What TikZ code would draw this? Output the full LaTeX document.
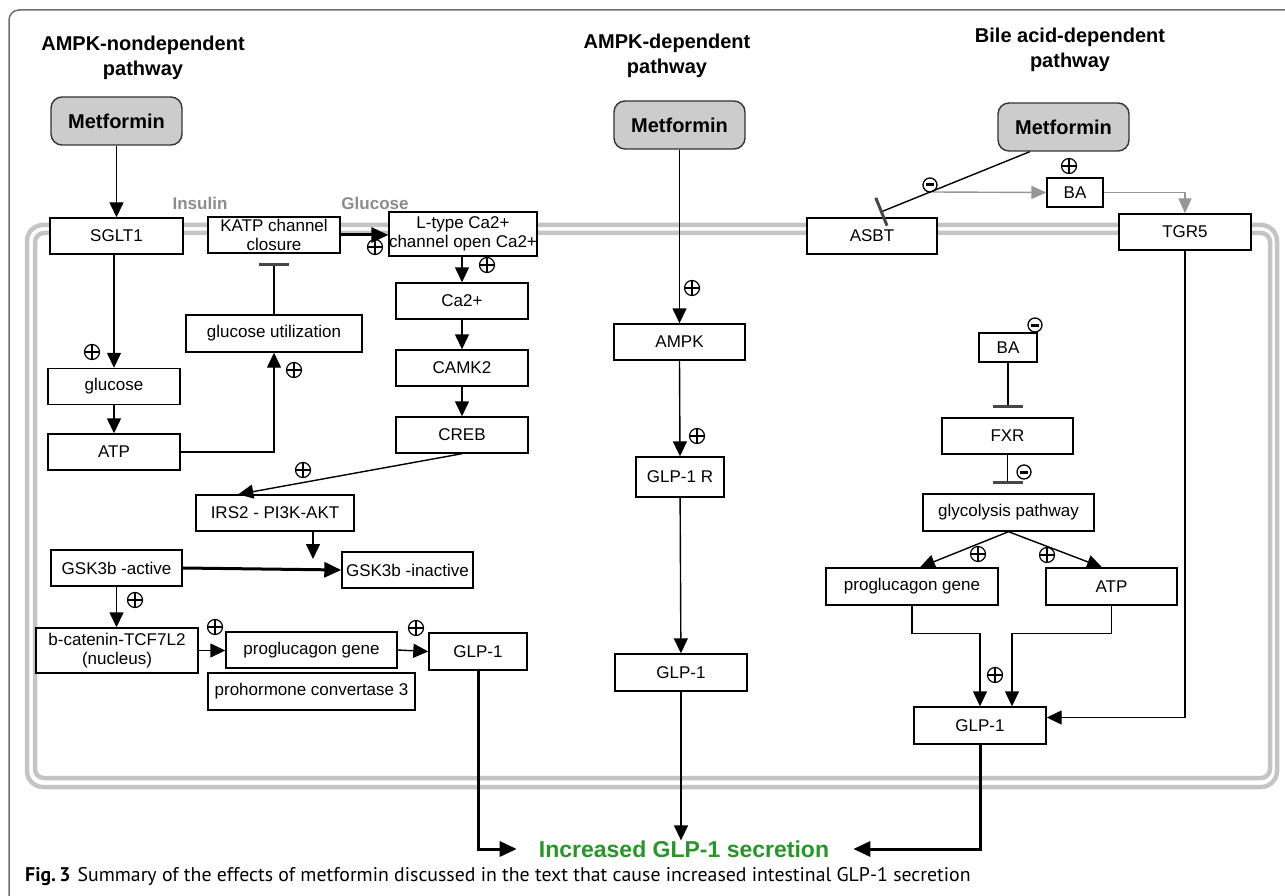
\documentclass[tikz,border=0pt]{standalone}
\usepackage{fontspec}
\setmainfont{Liberation Sans}
\newfontfamily\capfont{PT Sans}
\usetikzlibrary{arrows.meta,calc}

\definecolor{memgray}{RGB}{196,196,196}
\definecolor{metfill}{RGB}{204,204,204}
\definecolor{flowgray}{RGB}{150,150,150}
\definecolor{labelgray}{RGB}{140,140,140}
\definecolor{secretgreen}{RGB}{38,150,38}
\definecolor{framegray}{RGB}{110,110,110}
\definecolor{bargray}{RGB}{70,70,70}

\begin{document}
\begin{tikzpicture}[x=1pt,y=-1pt,
  box/.style={draw, fill=white, line width=1.4, inner sep=0, minimum height=36,
    font=\fontsize{17}{19}\selectfont, align=center},
  drug/.style={draw=black!80, fill=metfill, rounded corners=11, line width=1.4,
    minimum width=131, minimum height=48, inner sep=0,
    font=\fontsize{20}{22}\selectfont\bfseries},
  head/.style={font=\fontsize{20}{25}\selectfont\bfseries, align=center, inner sep=0},
  side/.style={font=\fontsize{17}{19}\selectfont\bfseries, text=labelgray, inner sep=0},
  arr/.style={line width=1.4, -{Triangle[length=15pt,width=14pt]}},
  bold arr/.style={line width=3, -{Triangle[length=17pt,width=15pt]}},
  grayarr/.style={draw=flowgray, line width=1.4, -{Triangle[length=15pt,width=13pt,color=flowgray]}},
  inh/.style={line width=1.4, -{Bar[width=30pt,line width=3.4pt,color=bargray]}},
  plus/.style={circle, draw, line width=1.2, minimum size=15, inner sep=0,
    path picture={\draw[line width=1.2]
      (path picture bounding box.north) -- (path picture bounding box.south)
      (path picture bounding box.west) -- (path picture bounding box.east);}},
  minus/.style={circle, draw, line width=1.3, minimum size=14, inner sep=0,
    path picture={\draw[line width=3]
      ([xshift=-4pt]path picture bounding box.center) --
      ([xshift=4pt]path picture bounding box.center);}}
]
\useasboundingbox (0,0) rectangle (1285,896);

% outer frame
\draw[framegray, line width=1.5, rounded corners=10] (9,900) -- (9,10) -- (1290,10);

% cell membrane (double line)
\draw[memgray, line width=4.5, rounded corners=16] (27,225) rectangle (1277,787);
\draw[memgray, line width=4.5, rounded corners=9] (35,233) rectangle (1270,778);

% column headings
\node[head] (h1) at (143,58) {AMPK-nondependent\\pathway};
\node[head] (h2) at (667,56) {AMPK-dependent\\pathway};
\node[head] (h3) at (1070,50) {Bile acid-dependent\\pathway};

% ---------- AMPK-nondependent pathway ----------
\node[drug] (met1) at (116.5,121) {Metformin};
\node[box, minimum width=133] (sglt1) at (116.5,236) {SGLT1};
\node[box, minimum width=132] (katp) at (274,235) {KATP channel\\closure};
\node[box, minimum width=146, minimum height=44] (ltype) at (463,234) {L-type Ca2+\\channel open Ca2+};
\node[side] (ins) at (200,203) {Insulin};
\node[side] (glc) at (375,203) {Glucose};
\node[box, minimum width=132] (ca2) at (462,301) {Ca2+};
\node[box, minimum width=132] (camk2) at (462,368) {CAMK2};
\node[box, minimum width=132] (creb) at (462,435) {CREB};
\node[box, minimum width=176, minimum height=37] (gutil) at (274,333.5) {glucose utilization};
\node[box, minimum width=132] (glucose) at (114,386.5) {glucose};
\node[box, minimum width=132] (atp1) at (114,452) {ATP};
\node[box, minimum width=158] (irs2) at (275,513) {IRS2 - PI3K-AKT};
\node[box, minimum width=131] (gska) at (116.5,568) {GSK3b -active};
\node[box, minimum width=131] (gski) at (407.5,570) {GSK3b -inactive};
\node[box, minimum width=162, minimum height=45] (bcat) at (117,650.5) {b-catenin-TCF7L2\\(nucleus)};
\node[box, minimum width=171] (prog1) at (311.5,650) {proglucagon gene};
\node[box, minimum width=207, minimum height=37] (proh) at (311.5,691.5) {prohormone convertase 3};
\node[box, minimum width=98, minimum height=37] (glp1a) at (478,651.5) {GLP-1};

% ---------- AMPK-dependent pathway ----------
\node[drug] (met2) at (679.5,125) {Metformin};
\node[box, minimum width=131] (ampk) at (679.5,342) {AMPK};
\node[box, minimum width=88, minimum height=40] (glp1r) at (680,477) {GLP-1 R};
\node[box, minimum width=132, minimum height=37] (glp1b) at (681,672.5) {GLP-1};

% ---------- Bile acid-dependent pathway ----------
\node[drug] (met3) at (1063.5,127) {Metformin};
\node[box, minimum width=130] (asbt) at (872,236) {ASBT};
\node[box, minimum width=56, minimum height=29] (ba1) at (1075,192.5) {BA};
\node[box, minimum width=132] (tgr5) at (1185,232) {TGR5};
\node[box, minimum width=58, minimum height=29] (ba2) at (1008,347.5) {BA};
\node[box, minimum width=131] (fxr) at (1007.5,436) {FXR};
\node[box, minimum width=171, minimum height=37] (glyc) at (1008.5,512.5) {glycolysis pathway};
\node[box, minimum width=172, minimum height=37] (prog2) at (912,586.5) {proglucagon gene};
\node[box, minimum width=131, minimum height=37] (atp2) at (1111.5,586.5) {ATP};
\node[box, minimum width=132, minimum height=37] (glp1c) at (980,725.5) {GLP-1};

% outcome
\node[font=\fontsize{23}{25}\selectfont\bfseries, text=secretgreen, inner sep=0] (incr) at (684,849) {Increased GLP-1 secretion};

% caption
\node[anchor=base west, font=\capfont\fontsize{19.8}{22}\selectfont, inner sep=0] (cap) at (25,881)
  {\textbf{Fig.\,3}\hspace{7pt}Summary of the effects of metformin discussed in the text that cause increased intestinal GLP-1 secretion};

% ---------- connectors: left column ----------
\draw[arr] (met1) -- (sglt1);
\draw[bold arr] (katp.east) -- (katp.east -| ltype.west);
\draw[arr] (ca2.north |- ltype.south) -- (ca2.north);
\draw[arr] (ca2) -- (camk2);
\draw[arr] (camk2) -- (creb);
\draw[inh, shorten >=9pt] (gutil.north) -- (katp.south);
\draw[arr] (sglt1.south -| glucose.north) -- (glucose.north);
\draw[arr] (glucose) -- (atp1);
\draw[arr] (atp1.east) -| (gutil.south);
\draw[arr] (creb.south) -- ($(irs2.north west)!0.27!(irs2.north east)$);
\coordinate (gskhit) at (313,559);
\draw[arr] (irs2.south -| gskhit) -- (gskhit);
\draw[bold arr] (gska.east) -- (gski.west);
\draw[arr] (gska.south) -- (gska.south |- bcat.north);
\draw[arr] (bcat.east) -- (bcat.east -| prog1.west);
\draw[arr] (prog1.east) -- (glp1a.west);
\draw[bold arr, shorten >=22pt] (glp1a.south) |- (incr.west);

% ---------- connectors: middle column ----------
\draw[arr] (met2) -- (ampk);
\draw[arr] (ampk.south) -- (glp1r.north);
\draw[arr] (glp1r) -- (glp1b);
\draw[arr] (glp1b.south) -- (glp1b.south |- incr.north);

% ---------- connectors: right column ----------
\draw[inh, -{Bar[width=30pt,line width=3pt,color=bargray]}]
  ($(met3.south west)!0.245!(met3.south east)$) -- ($(asbt.north)+(8,-5)$);
\coordinate (bafork) at (933,192);
\draw[grayarr] (bafork) -- (ba1.west);
\draw[grayarr] (ba1.east) -| (tgr5.north);
\draw[arr] (tgr5.south) |- ([yshift=8pt]glp1c.east);
\draw[inh, shorten >=9pt] (ba2.south) -- (ba2.south |- fxr.north);
\draw[inh, shorten >=9pt] (fxr.south) -- (fxr.south |- glyc.north);
\draw[arr] (glyc.south) -- ($(prog2.north)+(8,0)$);
\draw[arr] (glyc.south) -- ($(atp2.north)+(-9.5,0)$);
\draw[arr] (prog2.south) -- ++(0,28) -| (glp1c.north);
\draw[arr] (atp2.south) -- ++(0,28) -| ($(glp1c.north)+(32,0)$);
\draw[bold arr, shorten >=24pt] (glp1c.south) |- (incr.east);

% ---------- activation / inhibition marks ----------
\node[plus] (p1) at (375,247) {};
\node[plus] (p2) at (487,265) {};
\node[plus] (p3) at (294,370) {};
\node[plus] (p4) at (92,352) {};
\node[plus] (p5) at (303,470) {};
\node[plus] (p6) at (135,600) {};
\node[plus] (p7) at (215,627) {};
\node[plus] (p8) at (416,628) {};
\node[plus] (p9) at (692,288) {};
\node[plus] (p10) at (697,436) {};
\node[plus] (p11) at (1069,166) {};
\node[plus] (p12) at (978,554) {};
\node[plus] (p13) at (1047,555) {};
\node[plus] (p14) at (995,675) {};
\node[minus] (m1) at (930,185) {};
\node[minus] (m2) at (1035,325) {};
\node[minus] (m3) at (1024,472) {};
\end{tikzpicture}
\end{document}
